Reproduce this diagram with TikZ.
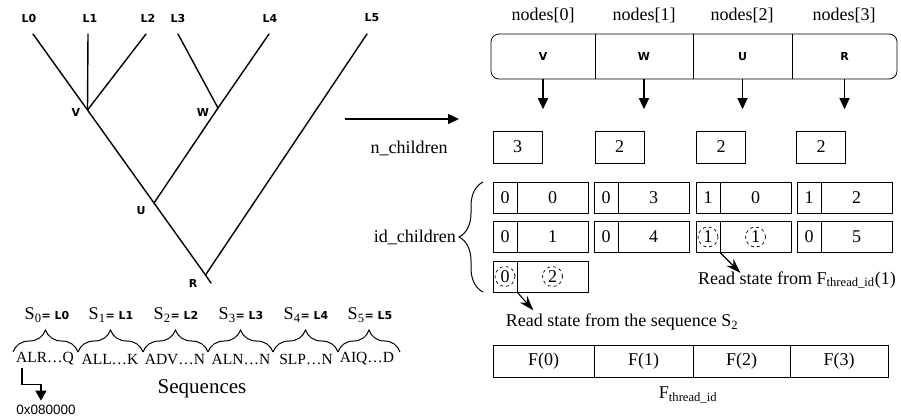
\documentclass[tikz,border=0pt]{standalone}
\usepackage{fontspec}
\setmainfont{Liberation Serif}
\newfontfamily\tagfont{DejaVu Sans}
\newfontfamily\hexfont{Liberation Sans}
\usetikzlibrary{arrows.meta,decorations.pathreplacing}

\newcommand{\tagtxt}[1]{{\tagfont\bfseries\fontsize{11}{12}\selectfont #1}}

\tikzset{
    tag/.style = {font = \tagfont\bfseries\fontsize{11}{12}\selectfont, inner sep = 0pt},
    txt/.style = {font = \fontsize{18}{20}\selectfont, inner sep = 0pt},
    seqtxt/.style = {font = \fontsize{15.5}{18}\selectfont, inner sep = 0pt},
    branch/.style = {line width = 1.4pt, line cap = round},
    box/.style = {draw, line width = 0.8pt, inner sep = 0pt, minimum height = 31pt,
        font = \fontsize{18}{20}\selectfont},
    slot/.style = {inner sep = 0pt, minimum height = 45pt},
    pick/.style = {draw, dashed, circle, line width = 0.7pt, inner sep = 0pt,
        minimum size = 20pt, font = \fontsize{18}{20}\selectfont},
    down/.style = {line width = 1.3pt, -{Triangle[width = 10pt, length = 11pt]}},
    hint/.style = {line width = 1.1pt, -{Stealth[width = 10pt, length = 15pt]}},
    curly/.style = {decorate, decoration = {brace, amplitude = #1}, line width = 1pt},
}

\begin{document}
\begin{tikzpicture}[x = 1pt, y = -1pt]
        \useasboundingbox (0,0) rectangle (901,418);

        % Tree
        \coordinate (l0) at (33,34);
        \coordinate (l1) at (88,34);
        \coordinate (l2) at (146,34);
        \coordinate (l3) at (178,34);
        \coordinate (l4) at (269,34);
        \coordinate (l5) at (367,34);
        \coordinate (v) at (87.5,110);
        \coordinate (w) at (218,108);
        \coordinate (u) at (154,203);
        \coordinate (r) at (205.5,275);
        \coordinate (tail) at (211,283);

        \draw [branch] (l0) -- (v) -- (u) -- (r) -- (tail);
        \draw [branch] (l1) -- (v);
        \draw [branch] (l2) -- (v);
        \draw [branch] (l3) -- (w);
        \draw [branch] (l4) -- (w) -- (u);
        \draw [branch] (l5) -- (r);

        % Leaf and inner labels
        \node [tag] (tl0) at (29,18) {L0};
        \node [tag] (tl1) at (90,18) {L1};
        \node [tag] (tl2) at (148,18) {L2};
        \node [tag] (tl3) at (178,18) {L3};
        \node [tag] (tl4) at (270,18) {L4};
        \node [tag] (tl5) at (372,18) {L5};
        \node [tag] (tv) at (76,112) {V};
        \node [tag] (tw) at (203,112) {W};
        \node [tag] (tu) at (141,211) {U};
        \node [tag] (tr) at (193,283) {R};

        \coordinate (from) at (345,119);
        \coordinate (to) at (459,119);
        \draw [down] (from) -- (to);

        % Node array
        \node [draw, rounded corners = 8pt, line width = 0.8pt, minimum width = 406pt,
            minimum height = 45pt, inner sep = 0pt] (arr) at (694,56.5) {};
        \node [slot, minimum width = 104pt, tag] (c0) at (543,56.5) {V};
        \node [slot, minimum width = 98pt, tag] (c1) at (644,56.5) {W};
        \node [slot, minimum width = 99pt, tag] (c2) at (742.5,56.5) {U};
        \node [slot, minimum width = 105pt, tag] (c3) at (844.5,56.5) {R};
        \draw [line width = 0.8pt] (c0.north east) -- (c0.south east);
        \draw [line width = 0.8pt] (c1.north east) -- (c1.south east);
        \draw [line width = 0.8pt] (c2.north east) -- (c2.south east);

        \node [txt] (h0) at (543,15) {nodes[0]};
        \node [txt] (h1) at (644,15) {nodes[1]};
        \node [txt] (h2) at (742,15) {nodes[2]};
        \node [txt] (h3) at (844,15) {nodes[3]};

        \draw [down] (c0.south) -- ++(0,30);
        \draw [down] (c1.south) -- ++(0,30);
        \draw [down] (c2.south) -- ++(0,30);
        \draw [down] (c3.south) -- ++(0,30);

        % n_children
        \node [txt] (nlab) at (409,148) {n\_children};
        \node [box, minimum width = 49pt, minimum height = 32pt] (n0) at (517.5,147) {3};
        \node [box, minimum width = 49pt, minimum height = 32pt] (n1) at (619.5,147) {2};
        \node [box, minimum width = 49pt, minimum height = 32pt] (n2) at (721,147) {2};
        \node [box, minimum width = 49pt, minimum height = 32pt] (n3) at (821,147) {2};

        % id_children
        \node [box, minimum width = 24pt] (p11) at (505,197.5) {0};
        \node [box, minimum width = 71pt] (q11) at (552.5,197.5) {0};
        \node [box, minimum width = 24pt] (p12) at (606,197.5) {0};
        \node [box, minimum width = 71pt] (q12) at (653.5,197.5) {3};
        \node [box, minimum width = 24pt] (p13) at (708,197.5) {1};
        \node [box, minimum width = 71pt] (q13) at (755.5,197.5) {0};
        \node [box, minimum width = 24pt] (p14) at (809,197.5) {1};
        \node [box, minimum width = 71pt] (q14) at (856.5,197.5) {2};

        \node [box, minimum width = 24pt] (p21) at (505,237) {0};
        \node [box, minimum width = 71pt] (q21) at (552.5,237) {1};
        \node [box, minimum width = 24pt] (p22) at (606,237) {0};
        \node [box, minimum width = 71pt] (q22) at (653.5,237) {4};
        \node [box, minimum width = 24pt] (p23) at (708,237) {};
        \node [box, minimum width = 71pt] (q23) at (755.5,237) {};
        \node [box, minimum width = 24pt] (p24) at (809,237) {0};
        \node [box, minimum width = 71pt] (q24) at (856.5,237) {5};

        \node [box, minimum width = 24pt] (p31) at (505,276.5) {};
        \node [box, minimum width = 71pt] (q31) at (552.5,276.5) {};

        \node [pick] (m23) at (p23) {1};
        \node [pick] (k23) at (q23) {1};
        \node [pick] (m31) at (p31) {0};
        \node [pick] (k31) at (q31) {2};

        \draw [curly = 24pt] (483,292) -- (483,182);
        \node [txt, anchor = east] (idlab) at (456,237) {id\_children};

        % Reading the state
        \draw [hint] (p23.south east) -- ++(20,20);
        \node [txt, anchor = west] (rs1) at (698,280) {Read state from F\textsubscript{thread\_id}(1)};
        \draw [hint] (p31.south east) -- ++(16,18);
        \node [txt] (rs2) at (622,322) {Read state from the sequence S\textsubscript{2}};

        % F_thread_id
        \node [box, minimum width = 101pt, minimum height = 32pt] (f0) at (543.5,361) {F(0)};
        \node [box, minimum width = 99pt, minimum height = 32pt] (f1) at (643.5,361) {F(1)};
        \node [box, minimum width = 97pt, minimum height = 32pt] (f2) at (741.5,361) {F(2)};
        \node [box, minimum width = 98pt, minimum height = 32pt] (f3) at (839,361) {F(3)};
        \node [txt] (flab) at (688,395) {F\textsubscript{thread\_id}};

        % Sequences
        \draw [curly = 22pt] (13,352) -- (78,352);
        \draw [curly = 22pt] (78,352) -- (143,352);
        \draw [curly = 22pt] (143,352) -- (208,352);
        \draw [curly = 22pt] (208,352) -- (273,352);
        \draw [curly = 22pt] (273,352) -- (338,352);
        \draw [curly = 22pt] (338,352) -- (400,352);

        \node [txt] (s0) at (47,315) {S\textsubscript{0}\tagtxt{= L0}};
        \node [txt] (s1) at (111,315) {S\textsubscript{1}\tagtxt{= L1}};
        \node [txt] (s2) at (176,315) {S\textsubscript{2}\tagtxt{= L2}};
        \node [txt] (s3) at (241,315) {S\textsubscript{3}\tagtxt{= L3}};
        \node [txt] (s4) at (306,315) {S\textsubscript{4}\tagtxt{= L4}};
        \node [txt] (s5) at (370,315) {S\textsubscript{5}\tagtxt{= L5}};

        \node [seqtxt] (q0) at (45,359) {ALR…Q};
        \node [seqtxt] (q1) at (110,359) {ALL…K};
        \node [seqtxt] (q2) at (175,359) {ADV…N};
        \node [seqtxt] (q3) at (241,359) {ALN…N};
        \node [seqtxt] (q4) at (306,359) {SLP…N};
        \node [seqtxt] (q5) at (367,359) {AIQ…D};

        \draw [line width = 1.4pt, -{Triangle[width = 11pt, length = 10pt]}]
            ([xshift = 6pt, yshift = -2pt]q0.south west) -- ++(0,17) -- ++(19,0) -- ++(0,16);
        \node [font = \hexfont\fontsize{13.5}{15}\selectfont, inner sep = 0pt] (addr) at (46,410) {0x080000};
        \node [font = \fontsize{21}{24}\selectfont, inner sep = 0pt] (seqlab) at (202,389) {Sequences};

    \end{tikzpicture}
\end{document}
